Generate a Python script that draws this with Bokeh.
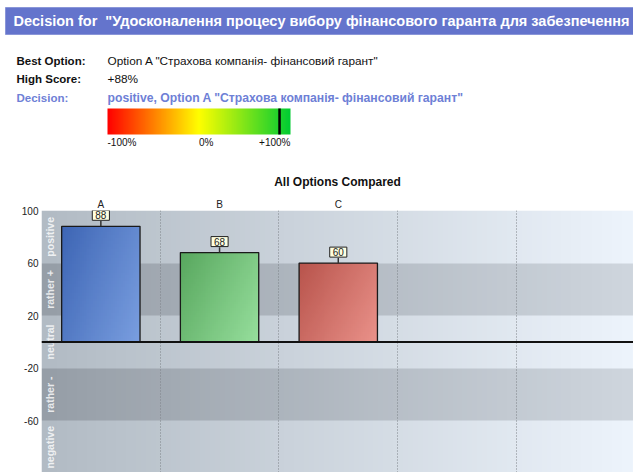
import numpy as np
from bokeh.plotting import figure
from bokeh.layouts import column
from bokeh.models import Range1d, FixedTicker, Span, Title
from bokeh.core.properties import value
from bokeh.embed import file_html
from bokeh.resources import INLINE

# ---------------- data ----------------
header_text = 'Decision for\u00a0\u00a0"Удосконалення процесу вибору фінансового гаранта для забезпечення'
info_keys = ["Best Option:", "High Score:", "Decision:"]
info_values = ['Option A "Страхова компанія- фінансовий гарант"', "+88%",
               'positive, Option A "Страхова компанія- фінансовий гарант"']
high_score = 88
scale_ticks = [-100, 0, 100]
scale_labels = ["-100%", "0%", "+100%"]

options = ["A", "B", "C"]
scores = [88, 68, 60]
y_ticks = [100, 60, 20, -20, -60, -100]
y_tick_labels = ["100", "60", "20", "-20", "-60", "-100"]
band_edges = [100, 60, 20, -20, -60, -100]
band_labels = ["positive", "rather +", "neutral", "rather -", "negative"]

FONT = "Liberation Sans"
W = 633
TOTAL_H = 472

# ---------------- top panel ----------------
TOP_H = 166
bar_left_px, bar_right_px = 107, 290
upp = 200.0 / (bar_right_px - bar_left_px)
score_start = -100 - bar_left_px * upp
score_end = score_start + W * upp

top = figure(width=W, height=TOP_H, x_range=Range1d(0, W), y_range=Range1d(TOP_H, 0),
             output_backend="svg", toolbar_location=None, min_border=0)
top.frame_align = False
top.axis.visible = False
top.grid.visible = False
top.outline_line_color = None
top.extra_x_ranges = {"score": Range1d(score_start, score_end)}

top.quad(left=[5], right=[W + 5], top=[7], bottom=[34], fill_color="#6474cc",
         line_color="#8a96d8", line_width=1)
top.text(x=[13], y=[20.5], text=[header_text], text_color="white", text_font=value(FONT),
         text_font_size="14.5px", text_font_style="bold", text_baseline="middle")

key_y = [60, 78, 97]
key_colors = ["#111111", "#111111", "#6e80d6"]
val_styles = ["normal", "normal", "bold"]
val_sizes = ["11.8px", "11.8px", "12.2px"]
for k, v, yy, c, st, fs in zip(info_keys, info_values, key_y, key_colors, val_styles, val_sizes):
    top.text(x=[16], y=[yy], text=[k], text_color=c, text_font=value(FONT),
             text_font_size="11.5px", text_font_style="bold", text_baseline="middle")
    top.text(x=[107], y=[yy], text=[v], text_color=c, text_font=value(FONT),
             text_font_size=fs, text_font_style=st, text_baseline="middle")

# gradient scale
nx = 400
sv = np.linspace(-100, 100, nx)
r = np.where(sv <= 0, 255, 255 + (0 - 255) * (sv / 100))
g = np.where(sv <= 0, 255 * (sv + 100) / 100, 255 + (204 - 255) * (sv / 100))
b = np.where(sv <= 0, 0, 51 * (sv / 100))
img = np.zeros((2, nx), dtype=np.uint32)
view = img.view(dtype=np.uint8).reshape((2, nx, 4))
for row in range(2):
    view[row, :, 0] = r.astype(np.uint8)
    view[row, :, 1] = g.astype(np.uint8)
    view[row, :, 2] = b.astype(np.uint8)
    view[row, :, 3] = 255
top.image_rgba(image=[img], x=-100, y=108, dw=200, dh=26, x_range_name="score")
top.segment(x0=[high_score], x1=[high_score], y0=[108], y1=[134], line_color="black",
            line_width=2.5, x_range_name="score")
aligns = ["left", "left", "right"]
for t, lab, al in zip(scale_ticks, scale_labels, aligns):
    top.text(x=[t], y=[142], text=[lab], text_align=al, text_baseline="middle",
             text_font=value(FONT), text_font_size="10px", text_color="#111111",
             x_range_name="score")

# ---------------- chart ----------------
CH_H = TOTAL_H - TOP_H
Y0 = -99.2
x_pos = list(range(len(options)))
p = figure(width=W, height=CH_H, x_range=Range1d(-0.5, 4.487), y_range=Range1d(Y0, 100),
           output_backend="svg", toolbar_location=None, x_axis_location="above",
           min_border_left=41, min_border_right=0, min_border_top=44, min_border_bottom=0,
           title="All Options Compared")
p.frame_align = False
p.title.align = "center"
p.title.text_font = FONT
p.title.text_font_size = "12px"
p.title.text_font_style = "bold"
p.title.text_color = "#111111"
p.title.standoff = Title().standoff + 3
p.outline_line_color = None
p.background_fill_color = "white"

p.xaxis.ticker = FixedTicker(ticks=x_pos)
p.xaxis.major_label_overrides = {i: o for i, o in enumerate(options)}
p.yaxis.ticker = FixedTicker(ticks=y_ticks)
p.yaxis.major_label_overrides = {t: l for t, l in zip(y_ticks, y_tick_labels)}
for ax in (p.xaxis, p.yaxis):
    ax.axis_line_color = None
    ax.major_tick_line_color = None
    ax.minor_tick_line_color = None
    ax.major_tick_out = 0
    ax.major_tick_in = 0
    ax.minor_tick_out = 0
    ax.major_label_text_font = FONT
    ax.major_label_text_font_size = "10px"
    ax.major_label_text_color = "#222222"
p.xaxis.major_label_standoff = 1
p.yaxis.major_label_standoff = 3

# background bands with horizontal gradient
ny, nxb = 200, 120
yy = np.linspace(-99.5, 99.5, ny)
u = np.linspace(0, 1, nxb)
light_l, light_r = np.array([178, 187, 196]), np.array([237, 244, 252])
dark_l, dark_r = np.array([150, 158, 167]), np.array([207, 214, 222])
bg = np.zeros((ny, nxb), dtype=np.uint32)
bv = bg.view(dtype=np.uint8).reshape((ny, nxb, 4))
for j, yv in enumerate(yy):
    idx = sum(1 for e in band_edges[1:] if yv < e)
    dark = idx % 2 == 1
    lft, rgt = (dark_l, dark_r) if dark else (light_l, light_r)
    cols = lft[None, :] + (rgt - lft)[None, :] * u[:, None]
    bv[j, :, :3] = cols.astype(np.uint8)
    bv[j, :, 3] = 255
bg_r = p.image_rgba(image=[bg], x=-0.5, y=-100, dw=5, dh=200)
bg_r.level = "image"

p.xgrid.ticker = FixedTicker(ticks=[0.5, 1.5, 2.5, 3.5])
p.xgrid.grid_line_color = "#7c8288"
p.xgrid.grid_line_dash = "1 2"
p.xgrid.grid_line_width = 1
p.ygrid.visible = False

# band labels
band_mid = [(a + b2) / 2 for a, b2 in zip(band_edges[:-1], band_edges[1:])]
p.text(x=[-0.5] * len(band_mid), y=band_mid, text=band_labels, angle=np.pi / 2,
       x_offset=8, text_align="center", text_baseline="middle", text_color="white",
       text_alpha=0.8, text_font=value(FONT), text_font_size="10.5px",
       text_font_style="bold")

# bars with diagonal gradient
bar_w = 0.66
dark_cols = [(58, 98, 178), (84, 164, 90), (180, 80, 72)]
light_cols = [(128, 164, 228), (156, 228, 162), (238, 152, 144)]
mid_cols = ["#5a82cc", "#78c47e", "#d4706a"]
n = 40
uu, vv = np.meshgrid(np.linspace(0, 1, n), np.linspace(0, 1, n))
tt = 0.65 * uu + 0.35 * (1 - vv)
for xi, s, dc, lc in zip(x_pos, scores, dark_cols, light_cols):
    im = np.zeros((n, n), dtype=np.uint32)
    iv = im.view(dtype=np.uint8).reshape((n, n, 4))
    for c in range(3):
        iv[:, :, c] = (dc[c] + (lc[c] - dc[c]) * tt).astype(np.uint8)
    iv[:, :, 3] = 255
    p.image_rgba(image=[im], x=xi - bar_w / 2, y=0, dw=bar_w, dh=s)
p.vbar(x=x_pos, top=scores, bottom=0, width=bar_w, fill_color=mid_cols, fill_alpha=0.15,
       line_color="#1a1a1a", line_width=1.3)

p.add_layout(Span(location=0, dimension="width", line_color="#111111", line_width=2))

# value labels
p.segment(x0=x_pos, x1=x_pos, y0=scores, y1=[s + 4 for s in scores],
          line_color="#333333", line_width=1.5)
p.text(x=x_pos, y=scores, text=[str(s) for s in scores], y_offset=-6,
       text_align="center", text_baseline="bottom", text_font=value(FONT),
       text_font_size="10px", text_color="#222222",
       background_fill_color="#ffffe0", border_line_color="#222222",
       border_line_width=1, padding=dict(left=3, right=3, top=1, bottom=1))

layout = column(top, p, spacing=0)
open("out.html", "w").write(file_html(layout, INLINE))
